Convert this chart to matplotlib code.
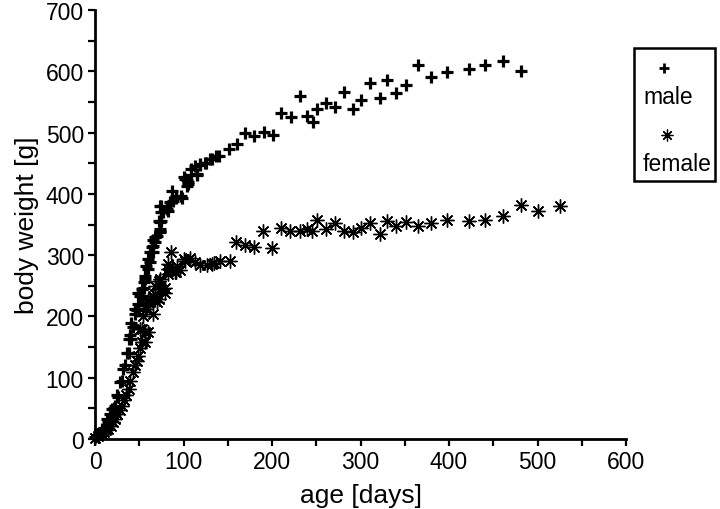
import matplotlib
matplotlib.use("Agg")
import matplotlib.pyplot as plt
from matplotlib.lines import Line2D
from matplotlib.patches import Rectangle

plt.rcParams['font.family'] = ['Liberation Sans', 'DejaVu Sans']

male_age = [0, 2, 4, 6, 8, 8, 10, 13, 13, 15, 17, 19, 19, 21, 23, 25, 26, 28, 30, 32,
            34, 36, 38, 38, 40, 41, 41, 43, 45, 45, 47, 49, 49, 49, 51, 53, 53, 55, 55, 56,
            56, 58, 60, 60, 62, 62, 64, 66, 66, 66, 68, 68, 70, 73, 73, 73, 72, 73, 75, 75,
            77, 73, 75, 81, 83, 85, 87, 88, 92, 92, 97, 98, 101, 102, 104, 104, 105, 105, 109, 109,
            113, 115, 115, 119, 119, 124, 125, 130, 132, 137, 140, 151, 160, 170, 180, 191, 201, 210, 221, 232,
            240, 246, 251, 261, 271, 281, 291, 301, 311, 322, 330, 340, 351, 365, 380, 398, 423, 441, 461, 481]
male_weight = [3, 5, 8, 10, 13, 16, 18, 22, 33, 30, 40, 38, 49, 50, 54, 71, 68, 93, 95, 114,
               120, 141, 141, 163, 170, 163, 190, 182, 204, 212, 210, 212, 220, 239, 234, 234, 245, 247, 256, 261,
               266, 283, 277, 294, 288, 305, 313, 305, 315, 324, 321, 329, 332, 337, 340, 343, 356, 354, 356, 370,
               370, 381, 381, 375, 372, 386, 405, 389, 393, 397, 397, 394, 427, 424, 413, 423, 416, 419, 430, 440,
               446, 431, 432, 447, 449, 451, 451, 457, 457, 462, 462, 474, 482, 499, 495, 501, 496, 532, 525, 560,
               527, 517, 538, 548, 542, 567, 539, 553, 581, 557, 585, 564, 578, 610, 590, 599, 604, 611, 617, 600]

female_age = [0, 3, 5, 8, 10, 12, 15, 18, 20, 23, 25, 28, 30, 33, 35, 38, 40, 43, 45, 47,
              49, 51, 53, 56, 51, 53, 57, 60, 54, 58, 57, 60, 60, 62, 66, 66, 68, 68, 70, 72,
              73, 72, 73, 75, 79, 79, 83, 83, 83, 86, 87, 90, 92, 93, 96, 100, 102, 107, 113, 119,
              126, 132, 134, 141, 152, 159, 170, 180, 190, 200, 210, 220, 232, 239, 245, 251, 261, 271, 281, 291,
              301, 311, 322, 330, 340, 351, 365, 380, 398, 423, 441, 461, 481, 501, 525]
female_weight = [2, 5, 8, 8, 12, 14, 16, 22, 28, 33, 40, 48, 54, 64, 72, 82, 95, 109, 120, 128,
                 136, 148, 158, 158, 180, 180, 174, 174, 201, 212, 217, 223, 226, 223, 204, 234, 237, 250, 223, 228,
                 245, 258, 261, 245, 239, 247, 269, 277, 286, 305, 277, 272, 272, 283, 275, 294, 291, 296, 288, 284,
                 284, 286, 287, 291, 291, 322, 316, 313, 339, 312, 344, 340, 339, 343, 340, 357, 342, 352, 340, 338,
                 344, 352, 334, 355, 347, 354, 348, 352, 358, 355, 357, 364, 382, 372, 381]

x_ticks = [0, 100, 200, 300, 400, 500, 600]
y_ticks = [0, 100, 200, 300, 400, 500, 600, 700]
series_labels = ['male', 'female']

W, H = 720, 510
fig = plt.figure(figsize=(7.2, 5.1), dpi=100)
ax = fig.add_axes([95 / W, 1 - 440 / H, (626 - 95) / W, (440 - 11) / H])

plus_style = dict(marker='+', markersize=9, markeredgewidth=2.3, color='black', linestyle='none')
star_style = dict(marker=(8, 2, 0), markersize=10, markeredgewidth=1.0, color='black', linestyle='none')

ax.plot(male_age, male_weight, **plus_style, clip_on=False, zorder=3)
ax.plot(female_age, female_weight, **star_style, clip_on=False, zorder=3)

ax.set_xlim(0, 600)
ax.set_ylim(0, 700)
ax.set_xticks(x_ticks)
ax.set_yticks(y_ticks)
ax.set_xticks(range(0, 601, 50), minor=True)
ax.set_yticks(range(0, 701, 50), minor=True)
ax.tick_params(which='both', direction='out', length=5, width=1.6, colors='black')
ax.tick_params(axis='both', labelsize=16.5, pad=3)
for s in ['top', 'right']:
    ax.spines[s].set_visible(False)
for s in ['left', 'bottom']:
    ax.spines[s].set_linewidth(2)

ax.set_xlabel('age [days]', fontsize=19, labelpad=7)
ax.set_ylabel('body weight [g]', fontsize=19, labelpad=5)

# legend box
fig.patches.append(Rectangle((634 / W, 1 - 182 / H), (715 - 634) / W, (182 - 49) / H,
                             transform=fig.transFigure, fill=False, edgecolor='black',
                             linewidth=1.8))
fig.lines.append(Line2D([664 / W], [1 - 69 / H], transform=fig.transFigure,
                        marker='+', markersize=7.5, markeredgewidth=2, color='black'))
fig.text(668 / W, 1 - 98 / H, series_labels[0], fontsize=16.5, ha='center', va='center')
fig.lines.append(Line2D([667 / W], [1 - 136 / H], transform=fig.transFigure,
                        marker=(8, 2, 0), markersize=8.5, markeredgewidth=0.9, color='black'))
fig.text(677 / W, 1 - 165 / H, series_labels[1], fontsize=16.5, ha='center', va='center')

fig.savefig('out.png', dpi=100)
